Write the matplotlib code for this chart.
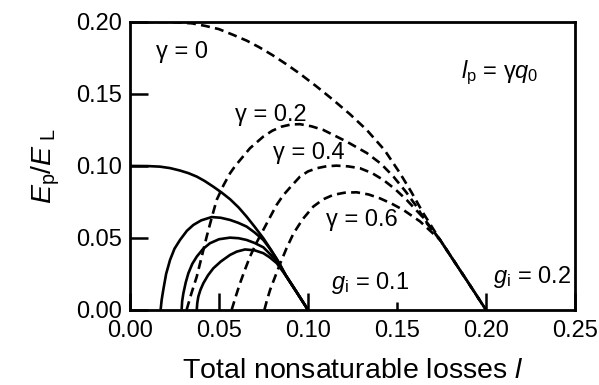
import matplotlib
matplotlib.use("Agg")
import matplotlib.pyplot as plt

plt.rcParams['font.family'] = ['Liberation Sans', 'DejaVu Sans']
plt.rcParams['mathtext.fontset'] = 'custom'
plt.rcParams['mathtext.rm'] = 'Liberation Sans'
plt.rcParams['mathtext.it'] = 'Liberation Sans:italic'

# ---- data (x = total nonsaturable losses l, y = Ep/EL) ----
# g_i = 0.1 (solid)
s_g0_x = [0.0, 0.01, 0.0169, 0.0225, 0.0281, 0.0328, 0.0375, 0.042, 0.0468, 0.0515, 0.0562, 0.061, 0.0655,
          0.070, 0.0749, 0.0796, 0.0843, 0.0875, 0.0938, 0.1]
s_g0_y = [0.100, 0.0999, 0.0995, 0.0985, 0.0968, 0.0950, 0.0926, 0.0895, 0.0856, 0.0815, 0.0769, 0.0712, 0.0648,
          0.0578, 0.0498, 0.0410, 0.0315, 0.024, 0.012, 0.0]

s_g2_x = [0.0172, 0.0178, 0.0187, 0.0203, 0.0225, 0.025, 0.0281, 0.032, 0.0356, 0.040, 0.0459, 0.051, 0.0562,
          0.0608, 0.0655, 0.070, 0.0749, 0.0786, 0.0824, 0.0875, 0.0938, 0.1]
s_g2_y = [0.0, 0.0070, 0.0139, 0.0250, 0.0347, 0.0425, 0.0486, 0.0550, 0.0590, 0.0622, 0.0645, 0.0640, 0.0625,
          0.0605, 0.0579, 0.0538, 0.0486, 0.0425, 0.0355, 0.024, 0.012, 0.0]

s_g4_x = [0.029, 0.0293, 0.030, 0.0313, 0.0328, 0.035, 0.0375, 0.041, 0.0449, 0.050, 0.0562, 0.061, 0.0655,
          0.070, 0.0749, 0.0785, 0.0824, 0.0875, 0.0938, 0.1]
s_g4_y = [0.0, 0.0060, 0.0116, 0.0190, 0.0255, 0.0320, 0.0370, 0.0423, 0.0463, 0.0491, 0.0502, 0.0498, 0.0486,
          0.0465, 0.0435, 0.0390, 0.0340, 0.024, 0.012, 0.0]

s_g6_x = [0.0375, 0.0378, 0.0384, 0.0396, 0.0412, 0.0438, 0.0468, 0.051, 0.0562, 0.060, 0.0646, 0.070, 0.0749,
          0.0785, 0.0824, 0.0875, 0.0938, 0.1]
s_g6_y = [0.0, 0.0048, 0.0093, 0.0140, 0.0185, 0.0240, 0.0289, 0.0336, 0.0382, 0.0405, 0.0420, 0.0414, 0.0394,
          0.0365, 0.0325, 0.024, 0.012, 0.0]

# g_i = 0.2 (dashed)
d_g0_x = [0.0, 0.02, 0.0275, 0.035, 0.0425, 0.05, 0.058, 0.0656, 0.0725, 0.08, 0.088, 0.0955, 0.105, 0.114,
          0.1235, 0.133, 0.143, 0.1517, 0.158, 0.1648, 0.1742, 0.1816, 0.19, 0.2]
d_g0_y = [0.200, 0.200, 0.1996, 0.1990, 0.1972, 0.1950, 0.1910, 0.1870, 0.1825, 0.1770, 0.1705, 0.1640, 0.1550,
          0.1460, 0.1360, 0.1250, 0.1110, 0.0949, 0.0820, 0.0671, 0.0486, 0.0347, 0.019, 0.0]

d_g2_x = [0.0318, 0.0345, 0.0375, 0.0403, 0.0431, 0.0459, 0.0487, 0.0525, 0.0562, 0.059, 0.0618, 0.0674, 0.0749,
          0.080, 0.0852, 0.0905, 0.0955, 0.102, 0.1086, 0.1217, 0.133, 0.141, 0.148, 0.155, 0.161, 0.1667,
          0.1742, 0.1816, 0.19, 0.2]
d_g2_y = [0.0, 0.0115, 0.0231, 0.0370, 0.0510, 0.0640, 0.0764, 0.0865, 0.0949, 0.0998, 0.1040, 0.1123, 0.1204,
          0.1245, 0.1273, 0.1288, 0.1290, 0.1275, 0.1250, 0.1169, 0.1090, 0.1015, 0.0926, 0.0820, 0.0718, 0.0602,
          0.0486, 0.0347, 0.019, 0.0]

d_g4_x = [0.0571, 0.0594, 0.0618, 0.0646, 0.0674, 0.071, 0.0749, 0.0785, 0.0824, 0.086, 0.0899, 0.0955, 0.100,
          0.1049, 0.1105, 0.1161, 0.1225, 0.1292, 0.136, 0.1423, 0.149, 0.1554, 0.1648, 0.1742, 0.1816, 0.19, 0.2]
d_g4_y = [0.0, 0.0093, 0.0185, 0.0280, 0.0370, 0.0465, 0.0556, 0.0640, 0.0730, 0.0795, 0.0850, 0.0926, 0.0962,
          0.0984, 0.0998, 0.1002, 0.0997, 0.0984, 0.0950, 0.0903, 0.0838, 0.0764, 0.0640, 0.0486, 0.0347, 0.019, 0.0]

d_g6_x = [0.0755, 0.077, 0.0787, 0.0815, 0.0843, 0.088, 0.0918, 0.097, 0.103, 0.1085, 0.1142, 0.1205, 0.1273,
          0.134, 0.1404, 0.147, 0.1536, 0.1629, 0.1742, 0.1816, 0.19, 0.2]
d_g6_y = [0.0, 0.0070, 0.0139, 0.0230, 0.0320, 0.0430, 0.0530, 0.0630, 0.0718, 0.0768, 0.0799, 0.0814, 0.0817,
          0.0802, 0.0775, 0.0738, 0.0694, 0.0615, 0.0486, 0.0347, 0.019, 0.0]

x_ticks = [0.00, 0.05, 0.10, 0.15, 0.20, 0.25]
y_ticks = [0.00, 0.05, 0.10, 0.15, 0.20]
x_tick_labels = ['0.00', '0.05', '0.10', '0.15', '0.20', '0.25']
y_tick_labels = ['0.00', '0.05', '0.10', '0.15', '0.20']

fig = plt.figure(figsize=(5.99, 3.85), dpi=100)
ax = fig.add_axes([0.217, 0.195, 0.743, 0.748])

lw = 1.9
for xs, ys in [(s_g0_x, s_g0_y), (s_g2_x, s_g2_y), (s_g4_x, s_g4_y), (s_g6_x, s_g6_y)]:
    ax.plot(xs, ys, color='black', lw=lw, solid_joinstyle='round', solid_capstyle='butt')
for xs, ys in [(d_g0_x, d_g0_y), (d_g2_x, d_g2_y), (d_g4_x, d_g4_y), (d_g6_x, d_g6_y)]:
    ax.plot(xs, ys, color='black', lw=lw, linestyle=(0, (3.4, 2.0)), dash_capstyle='butt')

ax.set_xlim(0, 0.25)
ax.set_ylim(0, 0.20)
ax.set_xticks(x_ticks)
ax.set_xticklabels(x_tick_labels)
ax.set_yticks(y_ticks)
ax.set_yticklabels(y_tick_labels)

for sp in ax.spines.values():
    sp.set_linewidth(2.0)

ax.tick_params(axis='both', direction='in', labelsize=17, width=1.8,
               top=False, right=False)
ax.tick_params(axis='y', length=13, pad=6)
ax.tick_params(axis='x', length=12, pad=7)
# the 0.15 tick on the x axis is drawn shorter in the reference
for t, v in zip(ax.xaxis.get_major_ticks(), x_ticks):
    if abs(v - 0.15) < 1e-9:
        t.tick1line.set_markersize(6)

ax.set_xlabel(r'Total nonsaturable losses $\mathit{l}$', fontsize=20.5, labelpad=12)
ax.set_ylabel(r'$\mathit{E}_{\mathrm{p}}/\mathit{E}_{\ \mathrm{L}}$', fontsize=20.5, labelpad=10)

fs = 17
ax.text(0.0292, 0.179, 'γ = 0', fontsize=fs, ha='center', va='center')
ax.text(0.0792, 0.1354, 'γ = 0.2', fontsize=fs, ha='center', va='center')
ax.text(0.1003, 0.109, 'γ = 0.4', fontsize=fs, ha='center', va='center')
ax.text(0.1302, 0.0625, 'γ = 0.6', fontsize=fs, ha='center', va='center')
ax.text(0.1348, 0.0187, r'$\mathit{g}_{\mathrm{i}}$ = 0.1', fontsize=fs, ha='center', va='center')
ax.text(0.2257, 0.0229, r'$\mathit{g}_{\mathrm{i}}$ = 0.2', fontsize=fs, ha='center', va='center')
ax.text(0.2079, 0.1646, r'$\mathit{l}_{\mathrm{p}}$ = γ$\mathit{q}_{0}$', fontsize=fs, ha='center', va='center')

fig.savefig('out.png', dpi=100)
